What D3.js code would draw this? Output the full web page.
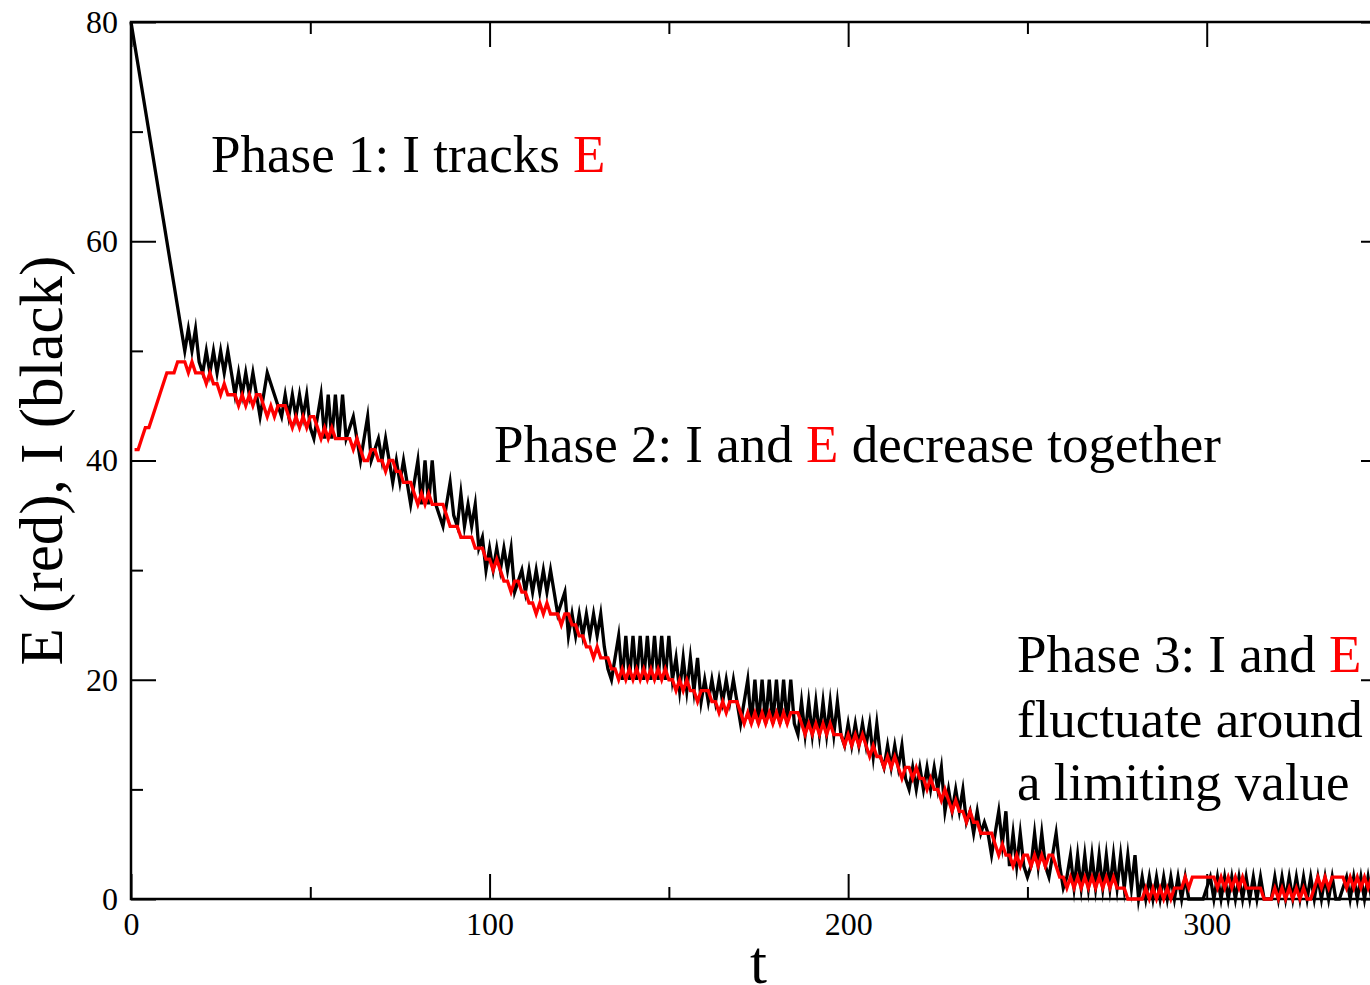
<!DOCTYPE html>
<html>
<head>
<meta charset="utf-8">
<script src="https://cdn.jsdelivr.net/npm/d3@7"></script>
<style>
  body { margin: 0; background: #fff; }
  svg { display: block; font-family: "Liberation Serif", "Times New Roman", serif; }
</style>
</head>
<body>
<div class="draw-chart"></div>
<script>
// one value per time step, t = 0, 1, 2, ...
const valuesI = [
  80, 78, 76, 74, 72, 70, 68, 66, 64, 62,
  60, 58, 56, 54, 52, 50, 52, 50, 52, 49,
  48, 50, 48, 50, 48, 50, 48, 50, 48, 46,
  48, 46, 48, 46, 48, 46, 44, 46, 48, 47,
  46, 45, 44, 46, 44, 46, 44, 46, 44, 46,
  43, 42, 44, 46, 42, 46, 42, 46, 42, 46,
  42, 43, 44, 42, 40, 42, 44, 40, 41, 42,
  40, 42, 40, 38, 40, 38, 40, 38, 36, 38,
  40, 36, 40, 36, 40, 36, 35, 34, 36, 38,
  35, 34, 37, 34, 36, 34, 36, 32, 33, 30,
  32, 30, 32, 30, 32, 30, 32, 28, 29, 30,
  28, 30, 28, 30, 28, 30, 28, 30, 28, 26,
  27, 28, 24, 26, 24, 26, 24, 26, 24, 26,
  24, 26, 23, 21, 20, 22, 24, 20, 24, 20,
  24, 20, 24, 20, 24, 20, 24, 20, 24, 20,
  24, 20, 22, 19, 22, 19, 22, 19, 22, 18,
  20, 18, 20, 18, 20, 18, 20, 18, 20, 18,
  16, 18, 20, 16, 20, 16, 20, 16, 20, 16,
  20, 16, 20, 16, 20, 16, 15, 18, 15, 18,
  15, 18, 15, 18, 15, 18, 15, 18, 15, 14,
  16, 14, 16, 14, 16, 14, 16, 13, 16, 13,
  12, 14, 12, 14, 12, 14, 11, 10, 12, 10,
  12, 10, 12, 10, 12, 10, 12, 8, 10, 8,
  10, 8, 10, 7, 8, 6, 8, 6, 7, 6,
  4, 6, 8, 5, 8, 3, 6, 3, 6, 3,
  2, 3, 6, 3, 6, 3, 2, 4, 6, 3,
  1, 2, 4, 1, 4, 1, 4, 1, 4, 1,
  4, 1, 4, 1, 4, 1, 4, 1, 4, 1,
  4, 0, 2, 0, 2, 0, 2, 0, 2, 0,
  2, 0, 2, 0, 2, 0, 0, 0, 0, 0,
  1, 2, 0, 2, 0, 2, 0, 2, 0, 2,
  0, 2, 0, 2, 0, 2, 0, 0, 0, 2,
  0, 2, 0, 2, 0, 2, 0, 2, 0, 2,
  0, 2, 0, 2, 0, 2, 0, 0, 1, 2,
  0, 2, 0, 2, 0, 2, 0, 2, 0, 2,
  0
];
const valuesE = [
  null, 41, 41, 42, 43, 43, 44, 45, 46, 47,
  48, 48, 48, 49, 49, 49, 48, 49, 48, 48,
  48, 47, 48, 47, 47, 46, 47, 46, 46, 46,
  45, 46, 45, 46, 45, 46, 46, 45, 44, 45,
  44, 45, 45, 45, 44, 43, 44, 43, 44, 43,
  44, 44, 43, 42, 43, 42, 43, 42, 42, 42,
  42, 42, 41, 42, 41, 40, 40, 41, 41, 40,
  40, 39, 40, 40, 39, 39, 38, 38, 38, 37,
  36, 37, 36, 37, 36, 36, 36, 36, 35, 34,
  34, 34, 33, 33, 33, 33, 32, 32, 32, 31,
  31, 30, 31, 30, 29, 29, 28, 29, 29, 28,
  28, 27, 27, 26, 27, 26, 27, 26, 26, 26,
  25, 26, 26, 25, 25, 24, 24, 23, 23, 22,
  23, 22, 22, 22, 21, 21, 20, 21, 20, 21,
  20, 21, 20, 21, 20, 21, 20, 21, 20, 21,
  20, 20, 19, 20, 19, 20, 19, 19, 18, 19,
  19, 19, 18, 18, 17, 18, 17, 18, 18, 18,
  17, 16, 17, 16, 17, 16, 17, 16, 17, 16,
  17, 16, 17, 16, 17, 17, 17, 16, 15, 16,
  15, 16, 15, 16, 15, 16, 15, 15, 15, 14,
  15, 14, 15, 14, 15, 14, 13, 14, 13, 13,
  12, 13, 12, 13, 12, 11, 12, 12, 11, 12,
  11, 11, 10, 11, 10, 10, 9, 10, 9, 8,
  9, 8, 8, 7, 8, 7, 7, 6, 6, 6,
  6, 5, 4, 5, 4, 4, 3, 4, 3, 4,
  4, 3, 4, 3, 4, 3, 4, 4, 3, 2,
  2, 1, 2, 1, 2, 1, 2, 1, 2, 1,
  2, 1, 2, 1, 2, 1, 1, 1, 0, 0,
  0, 0, 0, 1, 0, 1, 0, 1, 0, 1,
  0, 1, 1, 1, 2, 1, 2, 2, 2, 2,
  2, 2, 2, 1, 2, 1, 2, 1, 2, 1,
  2, 1, 1, 1, 1, 1, 0, 0, 0, 1,
  0, 1, 0, 1, 0, 1, 0, 1, 0, 0,
  1, 2, 1, 2, 1, 2, 2, 2, 2, 1,
  2, 1, 2, 1, 2, 1, 2, 1, 2, 1,
  2
];
const xMajorTicks = [0, 100, 200, 300];
const xMinorTicks = [50, 150, 250];
const yMajorTicks = [0, 20, 40, 60, 80];
const yMinorTicks = [10, 30, 50, 70];

const width = 1370, height = 985;
// the right edge of the frame (t = 350) falls just outside the picture
const margin = { top: 22, right: -16, bottom: 86, left: 131 };

const svg = d3.select(".draw-chart")
  .append("svg")
  .attr("width", width)
  .attr("height", height);

const x = d3.scaleLinear().domain([0, 350]).range([margin.left, width - margin.right]);
const y = d3.scaleLinear().domain([0, 80]).range([height - margin.bottom, margin.top]);

const fmt = d3.format("d");

function tickAxis(axis, values, size, labels) {
  return axis.tickValues(values).tickSize(-size).tickSizeOuter(0)
    .tickPadding(13).tickFormat(labels ? fmt : "");
}

function addAxis(gen, transform) {
  const g = svg.append("g").attr("transform", transform).call(gen);
  g.select(".domain").remove();
  g.selectAll("line").attr("stroke", "#000").attr("stroke-width", 2);
  g.selectAll("text").attr("font-size", 32).attr("fill", "#000")
    .attr("font-family", "Liberation Serif, Times New Roman, serif");
  return g;
}

const y0 = y(0), y1 = y(80), x0 = x(0), x1 = x(350);

// major + minor ticks on all four sides, pointing inwards
addAxis(tickAxis(d3.axisBottom(x), xMajorTicks, 25, true), `translate(0,${y0})`);
addAxis(tickAxis(d3.axisBottom(x), xMinorTicks, 12, false), `translate(0,${y0})`);
addAxis(tickAxis(d3.axisTop(x), xMajorTicks, 25, false), `translate(0,${y1})`);
addAxis(tickAxis(d3.axisTop(x), xMinorTicks, 12, false), `translate(0,${y1})`);
addAxis(tickAxis(d3.axisLeft(y), yMajorTicks, 25, true), `translate(${x0},0)`);
addAxis(tickAxis(d3.axisLeft(y), yMinorTicks, 12, false), `translate(${x0},0)`);
addAxis(tickAxis(d3.axisRight(y), yMajorTicks, 25, false), `translate(${x1},0)`);
addAxis(tickAxis(d3.axisRight(y), yMinorTicks, 12, false), `translate(${x1},0)`);

// frame
svg.append("rect")
  .attr("x", x0).attr("y", y1)
  .attr("width", x1 - x0).attr("height", y0 - y1)
  .attr("fill", "none").attr("stroke", "#000").attr("stroke-width", 2.5);

const line = d3.line()
  .defined((d) => d !== null)
  .x((d, i) => x(i))
  .y((d) => y(d));

svg.append("path")
  .datum(valuesI)
  .attr("fill", "none")
  .attr("stroke", "#000")
  .attr("stroke-width", 3.3)
  .attr("stroke-linejoin", "miter")
  .attr("stroke-miterlimit", 10)
  .attr("d", line);

svg.append("path")
  .datum(valuesE)
  .attr("fill", "none")
  .attr("stroke", "#ff0000")
  .attr("stroke-width", 3.3)
  .attr("stroke-linejoin", "miter")
  .attr("stroke-miterlimit", 10)
  .attr("d", line);

// axis labels
svg.append("text")
  .attr("x", (x0 + x1) / 2)
  .attr("y", 983)
  .attr("text-anchor", "middle")
  .attr("font-size", 61)
  .text("t");

svg.append("text")
  .attr("transform", `translate(62,${(y0 + y1) / 2}) rotate(-90)`)
  .attr("text-anchor", "middle")
  .attr("font-size", 61)
  .text("E (red), I (black)");

// annotations
const notes = [
  { x: 211, y: 172, parts: [["Phase 1: I tracks ", "#000"], ["E", "#ff0000"]] },
  { x: 494, y: 462, parts: [["Phase 2: I and ", "#000"], ["E", "#ff0000"], [" decrease together", "#000"]] },
  { x: 1017, y: 672, parts: [["Phase 3: I and ", "#000"], ["E", "#ff0000"]] },
  { x: 1017, y: 737, parts: [["fluctuate around", "#000"]] },
  { x: 1017, y: 800, parts: [["a limiting value", "#000"]] },
];

notes.forEach((n) => {
  const t = svg.append("text")
    .attr("x", n.x).attr("y", n.y)
    .attr("font-size", 53)
    .style("white-space", "pre");
  n.parts.forEach((p) => {
    t.append("tspan").attr("fill", p[1]).text(p[0]);
  });
});
</script>
</body>
</html>
